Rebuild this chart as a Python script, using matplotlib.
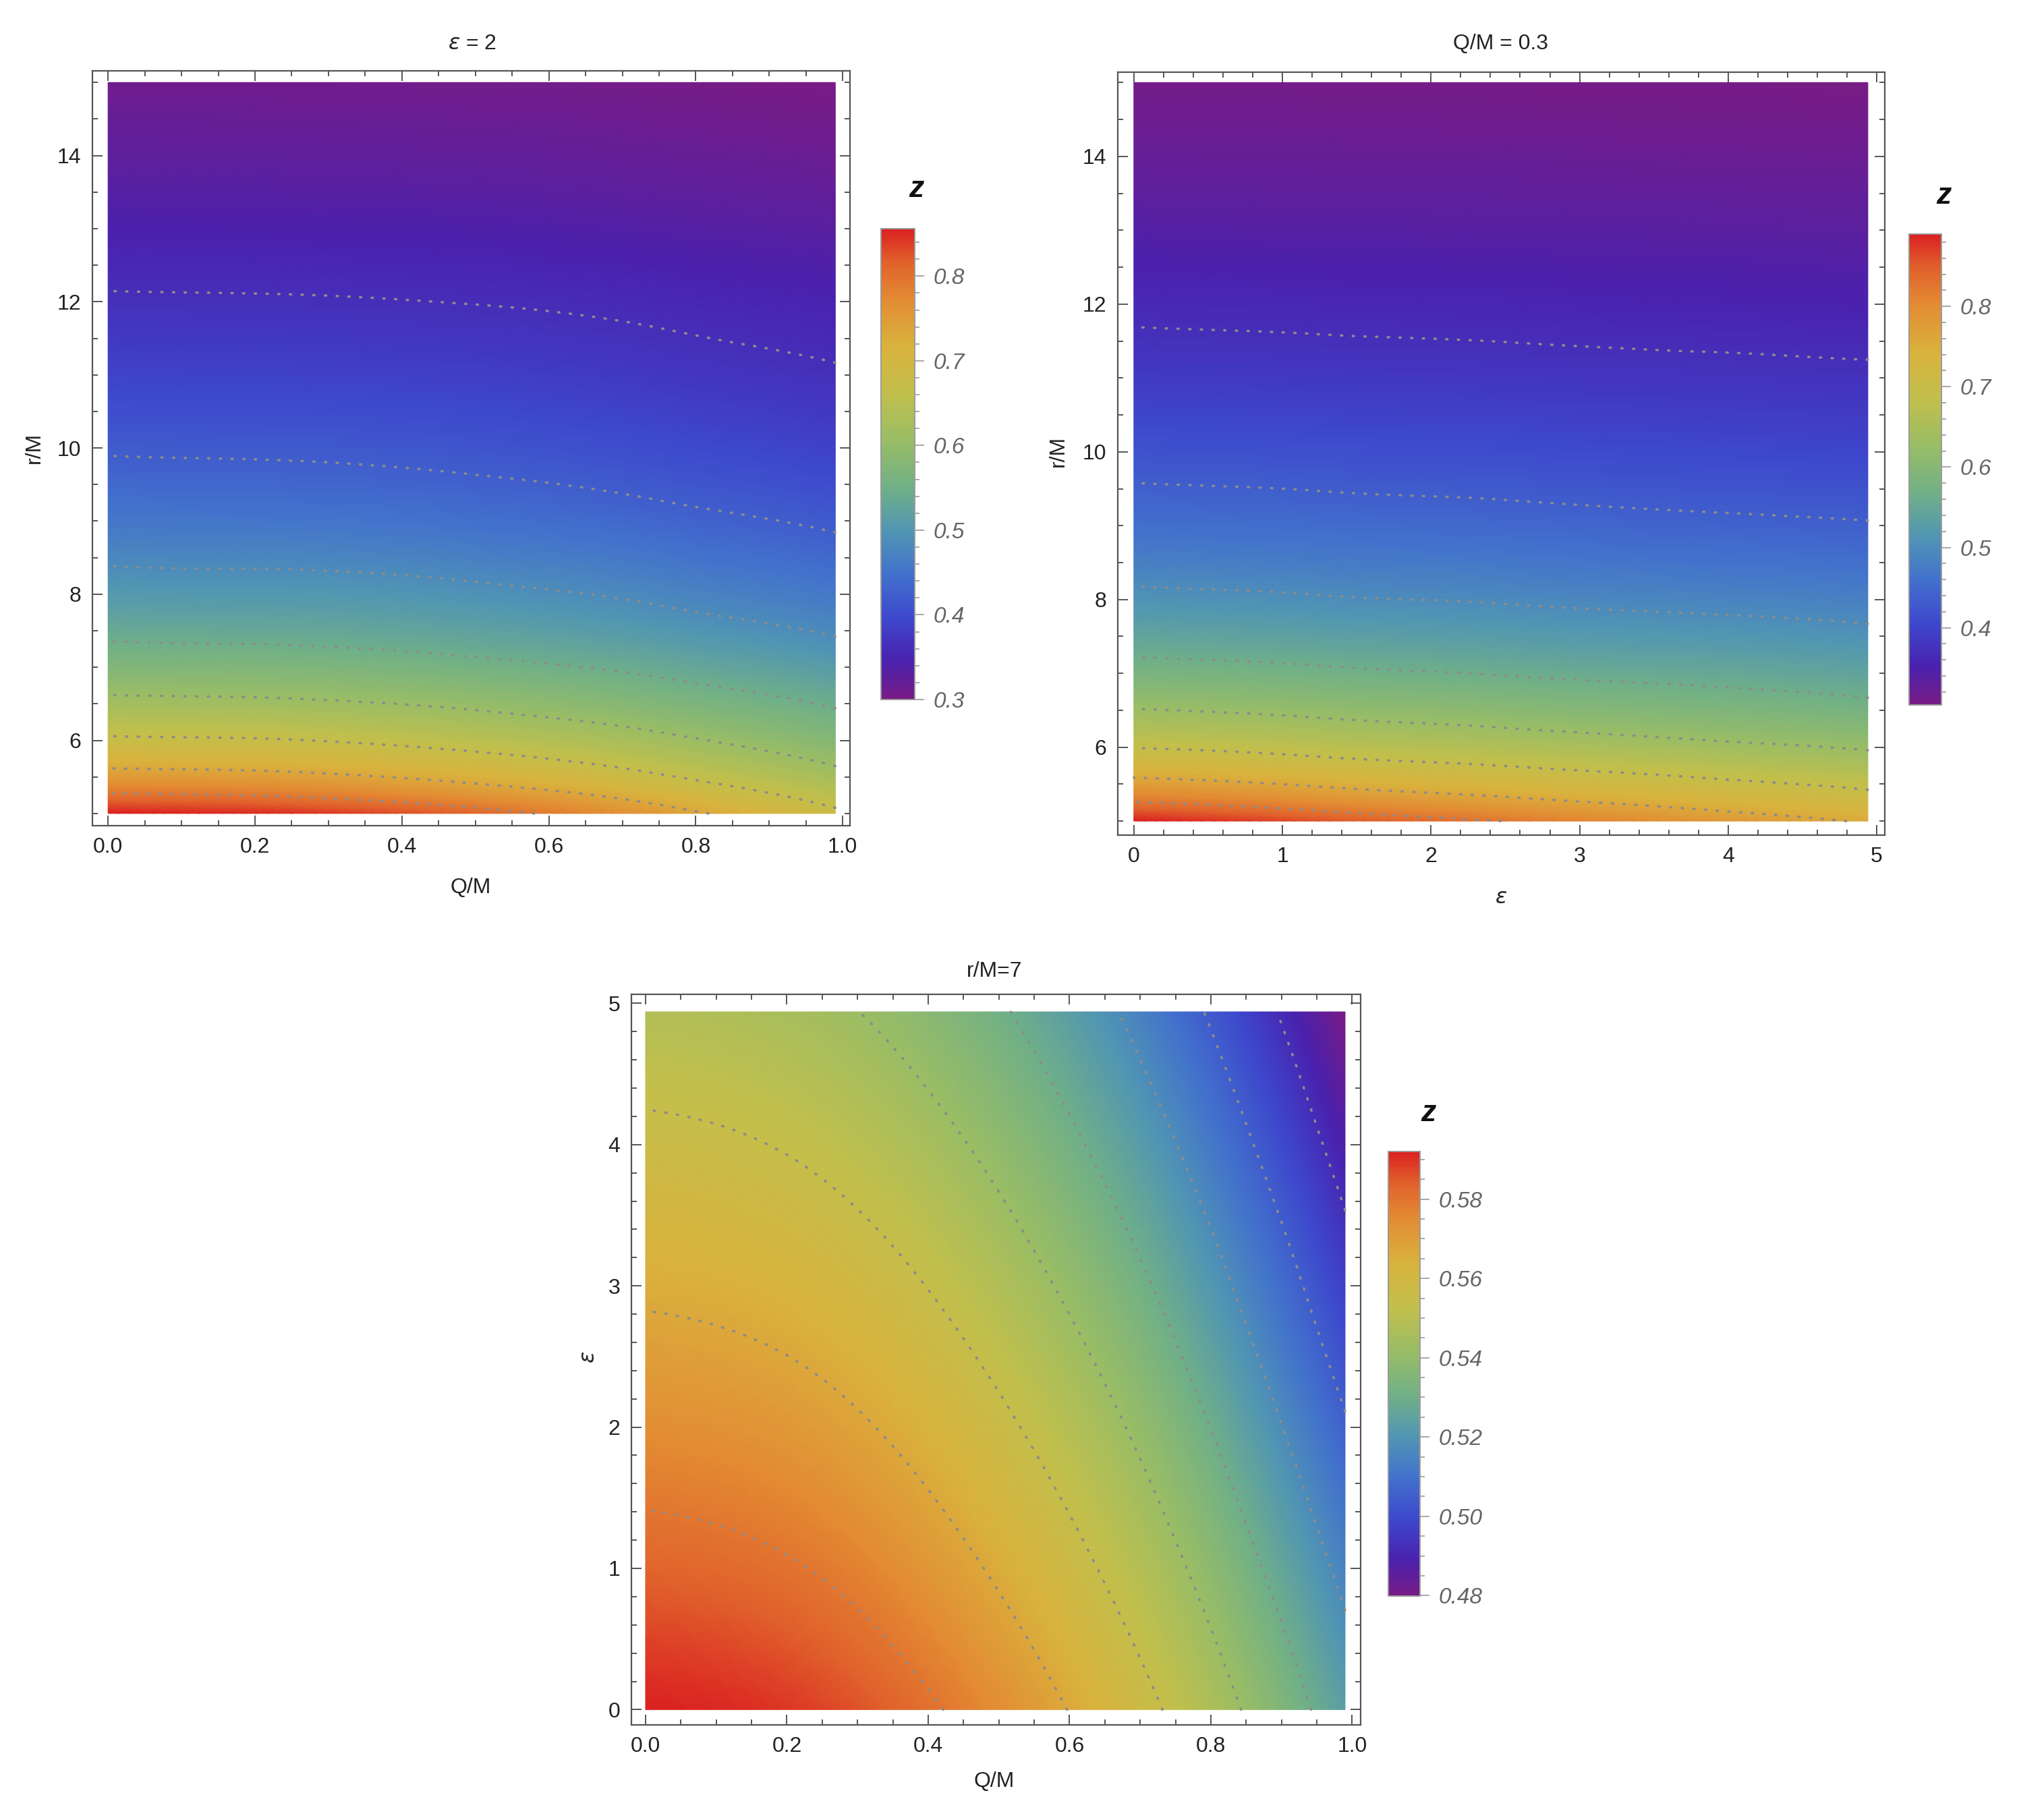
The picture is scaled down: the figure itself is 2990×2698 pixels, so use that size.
import numpy as np
import matplotlib
matplotlib.use('Agg')
import matplotlib.pyplot as plt
import matplotlib.tri as mtri
from matplotlib.colors import LinearSegmentedColormap
from matplotlib.ticker import MultipleLocator

plt.rcParams['font.family'] = ['Liberation Sans', 'DejaVu Sans']
plt.rcParams['mathtext.fontset'] = 'dejavusans'

# ---- panel 1: eps = 2, z over (Q/M, r/M) ----
p1_q = [0.0, 0.25, 0.5, 0.75, 0.99]
p1_r = [5.0, 5.25, 5.5, 5.75, 6.0, 6.5, 7.0, 7.5, 8.0, 9.0, 10.0, 11.0, 12.0, 13.0, 14.0, 15.0]
p1_z = [
    [0.856, 0.845, 0.810, 0.752, 0.680],
    [0.800, 0.790, 0.761, 0.712, 0.650],
    [0.752, 0.744, 0.718, 0.676, 0.623],
    [0.712, 0.705, 0.683, 0.646, 0.600],
    [0.678, 0.672, 0.652, 0.620, 0.579],
    [0.621, 0.616, 0.601, 0.575, 0.543],
    [0.575, 0.571, 0.558, 0.537, 0.511],
    [0.537, 0.533, 0.522, 0.504, 0.481],
    [0.506, 0.503, 0.494, 0.478, 0.458],
    [0.457, 0.454, 0.447, 0.434, 0.418],
    [0.420, 0.418, 0.412, 0.401, 0.388],
    [0.390, 0.388, 0.384, 0.375, 0.365],
    [0.365, 0.364, 0.361, 0.355, 0.348],
    [0.344, 0.343, 0.341, 0.336, 0.331],
    [0.326, 0.325, 0.323, 0.319, 0.314],
    [0.310, 0.309, 0.307, 0.304, 0.300],
]

# ---- panel 2: Q/M = 0.3, z over (eps, r/M) ----
p2_eps = [0.0, 1.25, 2.5, 3.75, 4.94]
p2_r = p1_r
p2_z = [
    [0.890, 0.858, 0.824, 0.789, 0.755],
    [0.827, 0.801, 0.774, 0.746, 0.718],
    [0.776, 0.754, 0.731, 0.708, 0.685],
    [0.732, 0.713, 0.694, 0.674, 0.654],
    [0.693, 0.677, 0.660, 0.642, 0.625],
    [0.632, 0.619, 0.606, 0.592, 0.578],
    [0.583, 0.573, 0.562, 0.552, 0.541],
    [0.543, 0.535, 0.526, 0.518, 0.509],
    [0.510, 0.503, 0.496, 0.489, 0.482],
    [0.458, 0.453, 0.448, 0.442, 0.437],
    [0.419, 0.415, 0.411, 0.406, 0.402],
    [0.387, 0.384, 0.381, 0.378, 0.375],
    [0.362, 0.360, 0.358, 0.355, 0.353],
    [0.342, 0.340, 0.339, 0.337, 0.335],
    [0.324, 0.323, 0.322, 0.320, 0.319],
    [0.310, 0.309, 0.307, 0.306, 0.304],
]

# ---- panel 3: r/M = 7, z over (Q/M, eps) ----
p3_q = [0.0, 0.2, 0.4, 0.6, 0.8, 0.99]
p3_eps = [0.0, 1.0, 2.0, 3.0, 4.0, 4.94]
p3_z = [
    [0.5920, 0.5892, 0.5808, 0.5668, 0.5472, 0.5234],
    [0.5832, 0.5804, 0.5720, 0.5580, 0.5384, 0.5146],
    [0.5744, 0.5716, 0.5632, 0.5492, 0.5296, 0.5058],
    [0.5656, 0.5628, 0.5544, 0.5404, 0.5208, 0.4970],
    [0.5568, 0.5540, 0.5456, 0.5316, 0.5120, 0.4882],
    [0.5485, 0.5457, 0.5373, 0.5233, 0.5037, 0.4799],
]

# Mathematica-like "Rainbow" gradient
rainbow = LinearSegmentedColormap.from_list('rainbow_m', [
    (0.00, (0.471, 0.109, 0.527)),
    (0.08, (0.290, 0.130, 0.680)),
    (0.17, (0.240, 0.280, 0.800)),
    (0.27, (0.260, 0.450, 0.800)),
    (0.36, (0.320, 0.590, 0.700)),
    (0.45, (0.440, 0.690, 0.530)),
    (0.55, (0.600, 0.740, 0.400)),
    (0.65, (0.760, 0.750, 0.300)),
    (0.75, (0.850, 0.700, 0.240)),
    (0.85, (0.890, 0.550, 0.200)),
    (0.93, (0.880, 0.380, 0.170)),
    (1.00, (0.857, 0.131, 0.132)),
])

W, H = 2990, 2698
DPI = 200
fig = plt.figure(figsize=(W / DPI, H / DPI), dpi=DPI)

FRAME = '#555555'
TXT = '#222222'


def px_axes(left, top, right, bottom):
    return fig.add_axes([left / W, 1 - bottom / H, (right - left) / W, (bottom - top) / H])


def px_text(x, y, s, **kw):
    fig.text(x / W, 1 - y / H, s, ha='center', va='center', **kw)


def density_panel(ax, xs, ys, zs):
    zs = np.asarray(zs, dtype=float)
    X, Y = np.meshgrid(xs, ys)
    x0, x1 = min(xs), max(xs)
    y0, y1 = min(ys), max(ys)
    # triangulate in normalised coordinates so the cubic fit is well conditioned
    tri = mtri.Triangulation(((X - x0) / (x1 - x0)).ravel(), ((Y - y0) / (y1 - y0)).ravel())
    interp = mtri.CubicTriInterpolator(tri, zs.ravel(), kind='min_E')
    tri_f, z_f = mtri.UniformTriRefiner(tri).refine_field(zs.ravel(), triinterpolator=interp, subdiv=4)
    tri_d = mtri.Triangulation(tri_f.x * (x1 - x0) + x0, tri_f.y * (y1 - y0) + y0, tri_f.triangles)
    zmin, zmax = zs.min(), zs.max()
    m = ax.tripcolor(tri_d, z_f, shading='gouraud', cmap=rainbow, vmin=zmin, vmax=zmax,
                     rasterized=True)
    levels = np.linspace(zmin, zmax, 10)[1:-1]
    cs = ax.tricontour(tri_d, z_f, levels=levels, colors='#8c8c8c', linewidths=1.3,
                       linestyles=[(0, (0.5, 4.3))])
    cs.set_capstyle('round')
    return m


def style_frame(ax, xlim, ylim, xmaj, xmin, ymaj, ymin, xfmt):
    ax.set_xlim(*xlim)
    ax.set_ylim(*ylim)
    ax.xaxis.set_major_locator(MultipleLocator(xmaj))
    ax.xaxis.set_minor_locator(MultipleLocator(xmin))
    ax.yaxis.set_major_locator(MultipleLocator(ymaj))
    ax.yaxis.set_minor_locator(MultipleLocator(ymin))
    ax.xaxis.set_major_formatter(xfmt)
    ax.yaxis.set_major_formatter('{x:g}')
    ax.tick_params(which='both', direction='in', top=True, right=True, color=FRAME,
                   width=0.7, labelsize=11.5, labelcolor=TXT)
    ax.tick_params(which='major', length=5.5, pad=6)
    ax.tick_params(which='minor', length=3)
    for sp in ax.spines.values():
        sp.set_color(FRAME)
        sp.set_linewidth(0.8)


def colorbar(mappable, box, ticks, minor, fmt, zpos):
    cax = px_axes(*box)
    cb = fig.colorbar(mappable, cax=cax)
    cb.set_ticks(ticks)
    cb.ax.set_yticklabels([fmt.format(t) for t in ticks], fontstyle='italic')
    cb.ax.yaxis.set_minor_locator(MultipleLocator(minor))
    cb.ax.tick_params(which='both', direction='out', color='#999999', width=0.6,
                      labelsize=12, labelcolor='#666666')
    cb.ax.tick_params(which='major', length=5, pad=5)
    cb.ax.tick_params(which='minor', length=2.5)
    cb.outline.set_edgecolor('#9a9a9a')
    cb.outline.set_linewidth(0.7)
    px_text(*zpos, 'z', fontsize=16, fontstyle='italic', fontweight='bold', color='#111111')


# panel 1
ax1 = px_axes(137, 105, 1260, 1224)
m1 = density_panel(ax1, p1_q, p1_r, p1_z)
style_frame(ax1, (-0.0213, 1.0099), (4.833, 15.159), 0.2, 0.05, 2, 0.5, '{x:.1f}')
px_text(700, 65, r'$\epsilon$ = 2', fontsize=11.5, color=TXT)
px_text(698, 1316, 'Q/M', fontsize=11.5, color=TXT)
px_text(51, 664, 'r/M', fontsize=11.5, color=TXT, rotation=90)
colorbar(m1, (1306, 339, 1356, 1037), [0.3, 0.4, 0.5, 0.6, 0.7, 0.8], 0.02, '{:.1f}', (1358, 280))

# panel 2
ax2 = px_axes(1657, 107, 2794, 1238)
m2 = density_panel(ax2, p2_eps, p2_r, p2_z)
style_frame(ax2, (-0.108, 5.054), (4.81, 15.14), 1, 0.2, 2, 0.5, '{x:g}')
px_text(2225, 65, 'Q/M = 0.3', fontsize=11.5, color=TXT)
px_text(2225, 1331, r'$\epsilon$', fontsize=11.5, color=TXT)
px_text(1569, 669, 'r/M', fontsize=11.5, color=TXT, rotation=90)
colorbar(m2, (2830, 347, 2878, 1045), [0.4, 0.5, 0.6, 0.7, 0.8], 0.02, '{:.1f}', (2881, 290))

# panel 3
ax3 = px_axes(936, 1474, 2017, 2557)
m3 = density_panel(ax3, p3_q, p3_eps, p3_z)
style_frame(ax3, (-0.020, 1.012), (-0.108, 5.064), 0.2, 0.05, 1, 0.2, '{x:.1f}')
px_text(1474, 1440, 'r/M=7', fontsize=11.5, color=TXT)
px_text(1474, 2641, 'Q/M', fontsize=11.5, color=TXT)
px_text(873, 2012, r'$\epsilon$', fontsize=11.5, color=TXT, rotation=90)
colorbar(m3, (2058, 1707, 2105, 2366), [0.48, 0.50, 0.52, 0.54, 0.56, 0.58], 0.005, '{:.2f}',
         (2117, 1651))

fig.savefig('out.png', dpi=DPI)
